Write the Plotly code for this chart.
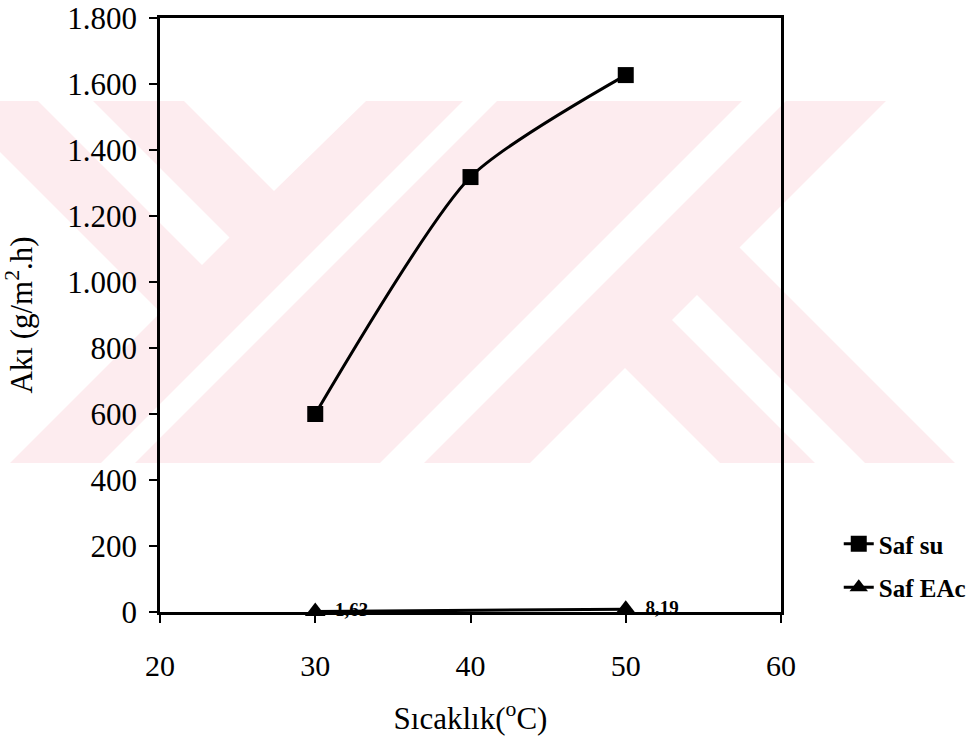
import plotly.graph_objects as go

# ---- data ----
temps = [30, 40, 50]
saf_su = [600, 1318, 1627]
eac_temps = [30, 50]
saf_eac = [1.63, 8.19]
eac_labels = ["1,63", "8,19"]
x_ticks = [20, 30, 40, 50, 60]
y_ticks = [0, 200, 400, 600, 800, 1000, 1200, 1400, 1600, 1800]

FONT = "Liberation Serif"
W, H = 977, 742
L, R, T, B = 160, 196, 18, 130
PW, PH = W - L - R, H - T - B


def px(xp, yp):
    return (xp - L) / PW, (H - B - yp) / PH


def path(points):
    s = ""
    for i, (a, b) in enumerate(points):
        xx, yy = px(a, b)
        s += ("M" if i == 0 else "L") + f"{xx:.5f},{yy:.5f} "
    return s + "Z"


fig = go.Figure()

fig.add_trace(go.Scatter(
    x=temps, y=saf_su, mode="lines+markers", name="Saf su",
    line=dict(color="black", width=3, shape="spline", smoothing=0.65),
    marker=dict(symbol="square", size=16, color="black"),
    legendgroup="a", cliponaxis=False))
fig.add_trace(go.Scatter(
    x=eac_temps, y=saf_eac, mode="lines+markers", name="Saf EAc",
    line=dict(color="black", width=3),
    marker=dict(symbol="triangle-up", size=18, color="black"),
    legendgroup="b", cliponaxis=False))
fig.add_trace(go.Scatter(
    x=eac_temps, y=saf_eac, mode="markers+text", text=eac_labels,
    textposition="middle right", showlegend=False, cliponaxis=False,
    marker=dict(size=30, opacity=0, color="black"), hoverinfo="skip",
    textfont=dict(family=FONT, size=19, color="black", weight="bold")))

# ---- watermark (decorative background) ----
pink = "#FDECEF"
shapes = [dict(type="path", path=path([(0, 101), (977, 101), (977, 463), (0, 463)]),
               xref="paper", yref="paper", fillcolor=pink, line=dict(width=0), layer="below")]
white_polys = [
    [(0, 152), (160.5, 312.5), (10, 463), (0, 463)],
    [(38, 101), (93, 101), (229.5, 237.5), (202, 265)],
    [(184, 101), (366, 101), (274, 191)],
    [(463, 101), (497, 101), (135, 463), (101, 463)],
    [(742, 101), (786, 101), (424, 463), (380, 463)],
    [(530, 463), (625, 368), (720, 463)],
    [(672, 320), (697, 295), (865, 463), (815, 463)],
    [(886, 101), (977, 101), (977, 463), (955, 463), (739.5, 247.5)],
]
for poly in white_polys:
    shapes.append(dict(type="path", path=path(poly), xref="paper", yref="paper",
                       fillcolor="white", line=dict(width=0), layer="below"))

fig.update_layout(
    width=W, height=H, autosize=False,
    margin=dict(l=L, r=R, t=T, b=B, pad=0, autoexpand=False),
    paper_bgcolor="white", plot_bgcolor="rgba(0,0,0,0)",
    separators=",.",
    font=dict(family=FONT, color="black"),
    shapes=shapes,
    showlegend=True,
    legend=dict(x=1.093, xanchor="left", y=0.153, yanchor="top",
                bgcolor="rgba(0,0,0,0)", tracegroupgap=8,
                font=dict(family=FONT, size=25, color="black", weight="bold")),
    xaxis=dict(range=[20, 60], tickvals=x_ticks, ticks="outside", ticklen=8,
               tickwidth=2, tickcolor="black", showline=True, linecolor="black",
               linewidth=2.5, mirror=True, showgrid=False, zeroline=False,
               automargin=False,
               tickfont=dict(family=FONT, size=30), ticklabelstandoff=17,
               title=dict(text="Sıcaklık(<sup>o</sup>C)", font=dict(family=FONT, size=31),
                          standoff=27)),
    yaxis=dict(range=[0, 1800], tickvals=y_ticks, tickformat=",", ticks="outside",
               ticklen=8, tickwidth=2, tickcolor="black", showline=True,
               linecolor="black", linewidth=2.5, mirror=True, showgrid=False,
               zeroline=False, automargin=False, tickfont=dict(family=FONT, size=31),
               ticklabelstandoff=6,
               title=dict(text="Akı (g/m<sup>2</sup>.h)", font=dict(family=FONT, size=31),
                          standoff=30)),
)

fig.write_html("out.html")
